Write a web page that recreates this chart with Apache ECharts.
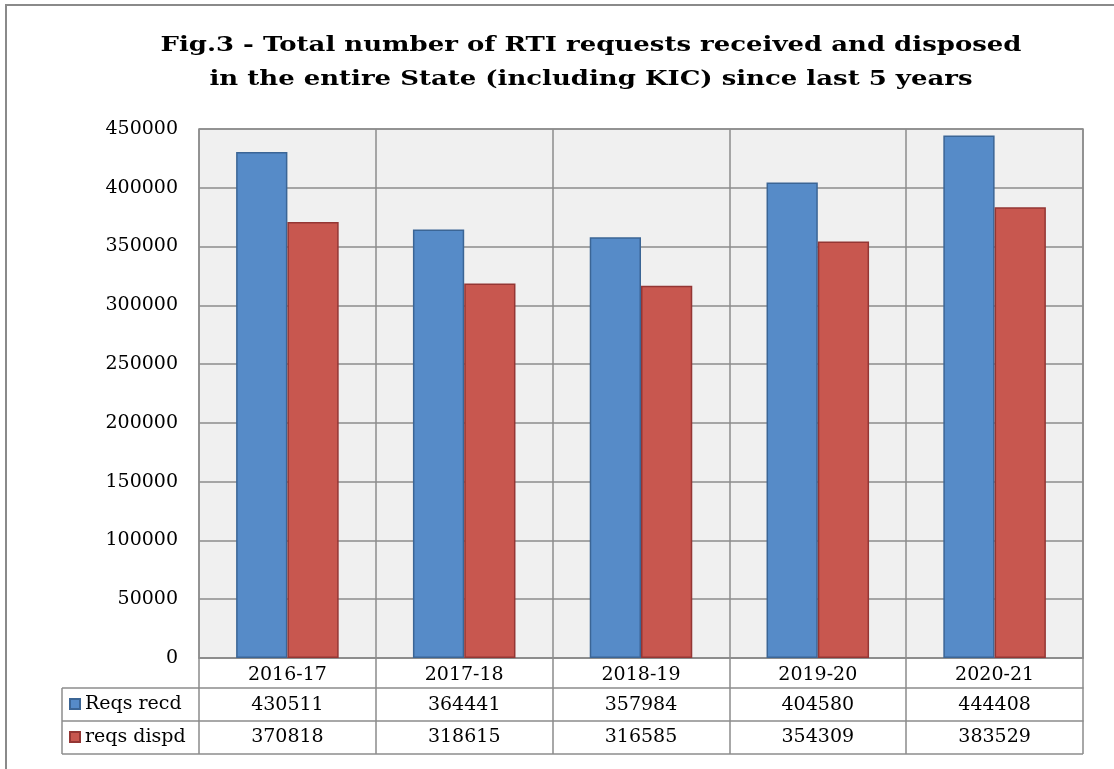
<!DOCTYPE html>
<html>
<head>
<meta charset="utf-8">
<script src="https://cdn.jsdelivr.net/npm/echarts@6/dist/echarts.min.js"></script>
<style>
html,body{margin:0;padding:0;background:#fff;}
#c{width:1114px;height:769px;}
</style>
</head>
<body>
<div id="c"></div>
<script>
var categories = ['2016-17', '2017-18', '2018-19', '2019-20', '2020-21'];
var seriesNames = ['Reqs recd', 'reqs dispd'];
var reqsRecd = [430511, 364441, 357984, 404580, 444408];
var reqsDispd = [370818, 318615, 316585, 354309, 383529];
var yTicks = { min: 0, max: 450000, interval: 50000 };
var titleLines = ['Fig.3 - Total number of RTI requests received and disposed',
                  'in the entire State (including KIC) since last 5 years'];

var FONT = 'DejaVu Serif';
var W = 1114, H = 769;
var G = { left: 199, right: 31, top: 129, bottom: 111 };
var rowH = [30, 33, 33];       // header row, row1, row2
var tableLeft = 62;
var gridColor = '#8c8c8c';
var blue = '#568BC8', blueB = '#3B6595';
var red = '#C8574F', redB = '#943634';

var chart = echarts.init(document.getElementById('c'), null, { renderer: 'canvas' });

var cv = document.createElement('canvas').getContext('2d');
var titleFontSize = 20;
cv.font = 'bold ' + titleFontSize + 'px "DejaVu Serif"';
var w1 = cv.measureText(titleLines[0]).width;
var titleScale = 861 / w1;

var plotBottom = H - G.bottom;
var y1 = plotBottom + rowH[0];
var y2 = y1 + rowH[1];
var y3 = y2 + rowH[2];
var plotRight = W - G.right;

function fmtCat(arr) { return arr.map(function (v) { return String(v); }); }

var option = {
  backgroundColor: '#ffffff',
  animation: false,
  textStyle: { fontFamily: FONT },
  grid: {
    left: G.left, right: G.right, top: G.top, bottom: G.bottom,
    show: true, backgroundColor: '#F0F0F0', borderColor: gridColor, borderWidth: 1.5
  },
  legend: {
    orient: 'vertical',
    left: 64, top: y1 + 1,
    itemWidth: 10, itemHeight: 10, itemGap: 13,
    icon: 'rect',
    data: seriesNames,
    formatter: '{t|{name}}',
    textStyle: {
      fontFamily: FONT, fontSize: 19, color: '#000', lineHeight: 20,
      rich: { t: { fontFamily: FONT, fontSize: 19, color: '#000', lineHeight: 20 } }
    }
  },
  xAxis: [
    {
      type: 'category', data: categories, gridIndex: 0, position: 'bottom',
      axisLine: { show: true, lineStyle: { color: gridColor, width: 1.5 } },
      axisTick: { show: true, length: rowH[0] + rowH[1] + rowH[2], lineStyle: { color: gridColor, width: 1.5 } },
      axisLabel: { fontFamily: FONT, fontSize: 19, color: '#000', margin: 17, verticalAlign: 'middle' },
      splitLine: { show: true, interval: 0, lineStyle: { color: gridColor, width: 1.5 } }
    },
    {
      type: 'category', data: fmtCat(reqsRecd), gridIndex: 0, position: 'bottom', offset: rowH[0],
      axisLine: { show: true, lineStyle: { color: gridColor, width: 1.5 } },
      axisTick: { show: false },
      axisLabel: { fontFamily: FONT, fontSize: 19, color: '#000', margin: 17, verticalAlign: 'middle' },
      splitLine: { show: false }
    },
    {
      type: 'category', data: fmtCat(reqsDispd), gridIndex: 0, position: 'bottom', offset: rowH[0] + rowH[1],
      axisLine: { show: true, lineStyle: { color: gridColor, width: 1.5 } },
      axisTick: { show: false },
      axisLabel: { fontFamily: FONT, fontSize: 19, color: '#000', margin: 16, verticalAlign: 'middle' },
      splitLine: { show: false }
    }
  ],
  yAxis: {
    type: 'value', min: yTicks.min, max: yTicks.max, interval: yTicks.interval,
    axisLine: { show: false }, axisTick: { show: false },
    axisLabel: { fontFamily: FONT, fontSize: 19, color: '#000', margin: 21, formatter: function (v) { return String(v); } },
    splitLine: { show: true, lineStyle: { color: gridColor, width: 1.5 } }
  },
  series: [
    {
      name: seriesNames[0], type: 'bar', xAxisIndex: 0, data: reqsRecd,
      barGap: '0%', barCategoryGap: '42%',
      itemStyle: { color: blue, borderColor: blueB, borderWidth: 1.5 }
    },
    {
      name: seriesNames[1], type: 'bar', xAxisIndex: 0, data: reqsDispd,
      barGap: '0%', barCategoryGap: '42%',
      itemStyle: { color: red, borderColor: redB, borderWidth: 1.5 }
    }
  ],
  graphic: [
    { type: 'rect', shape: { x: 6, y: 5, width: W + 20, height: H + 20 }, style: { fill: 'none', stroke: '#8a8a8a', lineWidth: 2 }, silent: true },
    { type: 'text', x: 591, y: 46, scaleX: titleScale, style: { text: titleLines[0], font: 'bold ' + titleFontSize + 'px "DejaVu Serif"', fill: '#000', align: 'center', verticalAlign: 'middle' } },
    { type: 'text', x: 591, y: 80, scaleX: titleScale, style: { text: titleLines[1], font: 'bold ' + titleFontSize + 'px "DejaVu Serif"', fill: '#000', align: 'center', verticalAlign: 'middle' } },
    { type: 'line', shape: { x1: tableLeft, y1: y1, x2: G.left, y2: y1 }, style: { stroke: gridColor, lineWidth: 1.5 } },
    { type: 'line', shape: { x1: tableLeft, y1: y2, x2: G.left, y2: y2 }, style: { stroke: gridColor, lineWidth: 1.5 } },
    { type: 'line', shape: { x1: tableLeft, y1: y3, x2: plotRight, y2: y3 }, style: { stroke: gridColor, lineWidth: 1.5 } },
    { type: 'line', shape: { x1: tableLeft, y1: y1, x2: tableLeft, y2: y3 }, style: { stroke: gridColor, lineWidth: 1.5 } }
  ]
};
chart.setOption(option);
</script>
</body>
</html>
